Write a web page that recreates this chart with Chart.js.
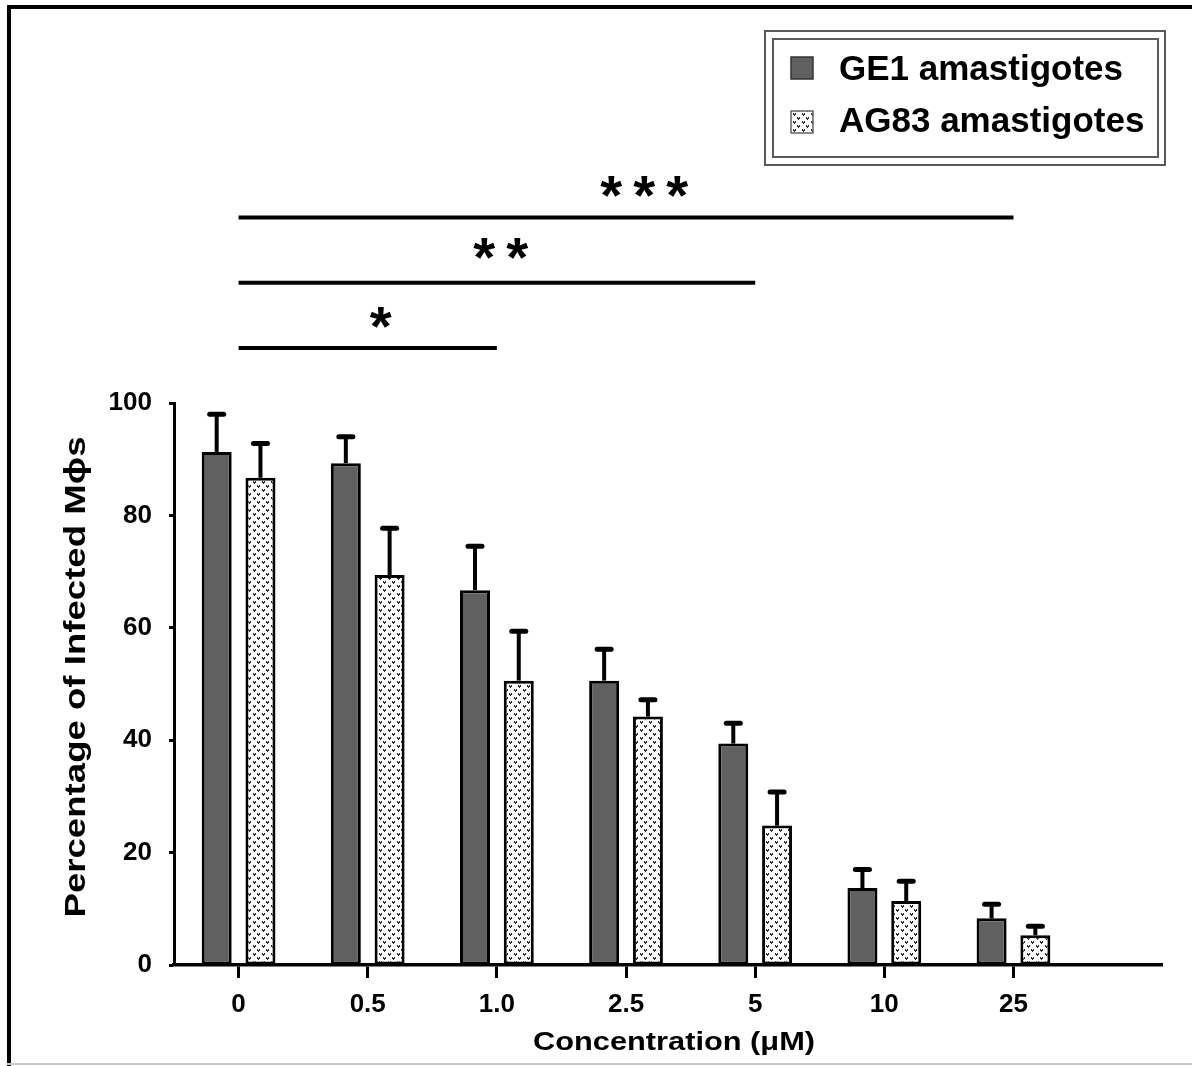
<!DOCTYPE html>
<html>
<head>
<meta charset="utf-8">
<title>Infected macrophages</title>
<script src="https://cdn.jsdelivr.net/npm/chart.js@4.4.1/dist/chart.umd.min.js"></script>
<style>
  html, body { margin: 0; padding: 0; background: #fff; overflow: hidden; }
  canvas { display: block; }
</style>
</head>
<body>
<canvas id="infectedChart" width="1192" height="1066"></canvas>
<script>
// data
const concentrations = ['0', '0.5', '1.0', '2.5', '5', '10', '25'];
const ge1Values  = [91.3, 89.3, 66.7, 50.6, 39.4, 13.7, 8.3];
const ge1Errors  = [6.7, 4.7, 7.8, 5.6, 3.6, 3.3, 2.5];
const ag83Values = [86.7, 69.4, 50.6, 44.2, 24.8, 11.4, 5.3];
const ag83Errors = [6.1, 8.3, 8.8, 3.0, 6.0, 3.5, 1.6];
const seriesNames = ['GE1 amastigotes', 'AG83 amastigotes'];

// significance brackets: from category, to category, label
const sigFrom   = [0, 0, 0];
const sigTo     = [2, 4, 6];
const sigLabels = ['*', '**', '***'];

const FONT = "'Liberation Sans', Arial, sans-serif";

const canvas = document.getElementById('infectedChart');
const ctx = canvas.getContext('2d');

// dotted fill for the AG83 bars
function makeDotPattern(color) {
  const tile = document.createElement('canvas');
  tile.width = 9; tile.height = 8;
  const g = tile.getContext('2d');
  g.fillStyle = '#fff';
  g.fillRect(0, 0, 9, 8);
  g.fillStyle = color;
  [[1, 1], [5, 5]].forEach(([x, y]) => {
    g.fillRect(x, y, 1, 1);
    g.fillRect(x + 2, y, 1, 1);
    g.fillRect(x, y + 1, 3, 1);
    g.fillRect(x + 1, y + 2, 1, 1);
  });
  return ctx.createPattern(tile, 'repeat');
}
const dotPattern = makeDotPattern('#2a2a2a');

function toPoints(values) {
  return values.map((v, i) => ({ x: i, y: v }));
}

function stretchedText(c, text, x, y, size, width, rotate) {
  c.save();
  c.font = 'bold ' + size + 'px ' + FONT;
  const w = c.measureText(text).width;
  c.translate(x, y);
  if (rotate) c.rotate(-Math.PI / 2);
  c.scale(width / w, 1);
  c.textAlign = 'center';
  c.textBaseline = 'alphabetic';
  c.fillStyle = '#000';
  c.fillText(text, 0, 0);
  c.restore();
}

const decorPlugin = {
  id: 'decor',
  beforeDraw(chart) {
    const c = chart.ctx;
    c.save();
    c.fillStyle = '#fff';
    c.fillRect(0, 0, chart.width, chart.height);
    // photo frame
    c.fillStyle = '#000';
    c.fillRect(7, 5, chart.width - 7, 4);
    c.fillRect(7, 5, 4, chart.height - 5);
    c.fillStyle = '#c8c8c8';
    c.fillRect(7, 1063, chart.width - 7, 2);
    c.restore();
  },
  afterDatasetsDraw(chart) {
    const c = chart.ctx;
    const y = chart.scales.y;
    const errs = [ge1Errors, ag83Errors];
    const vals = [ge1Values, ag83Values];
    c.save();
    c.strokeStyle = '#000';
    chart.data.datasets.forEach((ds, di) => {
      chart.getDatasetMeta(di).data.forEach((bar, j) => {
        const top = y.getPixelForValue(vals[di][j] + errs[di][j]);
        c.lineCap = 'butt';
        c.lineWidth = 4;
        c.beginPath();
        c.moveTo(bar.x, bar.y);
        c.lineTo(bar.x, top);
        c.stroke();
        c.lineCap = 'round';
        c.lineWidth = 5;
        c.beginPath();
        c.moveTo(bar.x - 7, top);
        c.lineTo(bar.x + 7, top);
        c.stroke();
      });
    });
    c.restore();
  },
  afterDraw(chart) {
    const c = chart.ctx;
    const xs = chart.scales.x;
    const ys = chart.scales.y;

    // axis titles
    stretchedText(c, 'Percentage of Infected M\u03d5s', 85, 677, 29, 481, true);
    stretchedText(c, 'Concentration (\u03bcM)', 674, 1050, 26, 282, false);

    // significance brackets
    const lineVals = [109.8, 121.4, 133.0];
    const starCenters = [1.10, 2.03, 3.14];
    const starVals = [115.2, 127.5, 138.5];
    c.save();
    c.fillStyle = '#000';
    c.strokeStyle = '#000';
    c.lineWidth = 4;
    c.lineCap = 'butt';
    c.font = 'bold 100px ' + FONT;
    const m = c.measureText('*');
    const inkW = m.actualBoundingBoxLeft + m.actualBoundingBoxRight;
    const size = 100 * 22 / inkW;
    c.font = 'bold ' + size + 'px ' + FONT;
    const mm = c.measureText('*');
    const asc = mm.actualBoundingBoxAscent, desc = mm.actualBoundingBoxDescent;
    sigLabels.forEach((lab, k) => {
      const py = ys.getPixelForValue(lineVals[k]);
      c.beginPath();
      c.moveTo(xs.getPixelForValue(sigFrom[k]), py);
      c.lineTo(xs.getPixelForValue(sigTo[k]), py);
      c.stroke();
      const cx = xs.getPixelForValue(starCenters[k]);
      const cy = ys.getPixelForValue(starVals[k]);
      const n = lab.length;
      c.textAlign = 'center';
      c.textBaseline = 'alphabetic';
      for (let s = 0; s < n; s++) {
        const sx = cx + (s - (n - 1) / 2) * 33;
        c.fillText('*', sx, cy + (asc - desc) / 2);
      }
    });
    c.restore();

    // legend box
    c.save();
    c.strokeStyle = '#5a5a5a';
    c.lineWidth = 2;
    c.strokeRect(765, 31, 400, 134);
    c.strokeRect(773, 39, 385, 118);
    c.fillStyle = '#606060';
    c.fillRect(791, 57, 22, 22);
    c.strokeStyle = '#333';
    c.lineWidth = 1.5;
    c.strokeRect(791, 57, 22, 22);
    c.fillStyle = dotPattern;
    c.fillRect(791, 111, 22, 22);
    c.strokeStyle = '#666';
    c.strokeRect(791, 111, 22, 22);
    c.fillStyle = '#000';
    c.font = 'bold 35px ' + FONT;
    c.textAlign = 'left';
    c.textBaseline = 'alphabetic';
    c.fillText(seriesNames[0], 839, 80);
    c.fillText(seriesNames[1], 839, 132);
    c.restore();
  }
};

const chart = new Chart(ctx, {
  type: 'bar',
  data: {
    datasets: [{
      label: seriesNames[0],
      data: toPoints(ge1Values),
      backgroundColor: '#606060',
      borderColor: '#000',
      borderWidth: 3,
      borderSkipped: false
    }, {
      label: seriesNames[1],
      data: toPoints(ag83Values),
      backgroundColor: dotPattern,
      borderColor: '#000',
      borderWidth: 3,
      borderSkipped: false
    }]
  },
  options: {
    responsive: false,
    animation: false,
    categoryPercentage: 0.678,
    barPercentage: 0.685,
    layout: { padding: { top: 403, right: 30, bottom: 0, left: 0 } },
    plugins: {
      legend: { display: false },
      tooltip: { enabled: false }
    },
    scales: {
      x: {
        type: 'linear',
        min: -0.5,
        max: 7.15,
        offset: false,
        afterBuildTicks(scale) {
          scale.ticks = concentrations.map((c, i) => ({ value: i }));
        },
        afterFit(scale) { scale.height = 101; },
        ticks: {
          callback: (v) => concentrations[v],
          color: '#000',
          font: { family: FONT, size: 26, weight: 'bold' },
          padding: 11,
          maxRotation: 0,
          autoSkip: false
        },
        grid: {
          offset: false,
          drawOnChartArea: false,
          tickLength: 13,
          tickWidth: 3,
          tickColor: '#000'
        },
        border: { display: true, color: '#000', width: 3.5 }
      },
      y: {
        min: 0,
        max: 100,
        afterFit(scale) { scale.width = 174; },
        ticks: {
          stepSize: 20,
          color: '#000',
          font: { family: FONT, size: 26, weight: 'bold' },
          padding: 17
        },
        grid: {
          drawOnChartArea: false,
          tickLength: 5,
          tickWidth: 3,
          tickColor: '#000'
        },
        border: { display: true, color: '#000', width: 3 }
      }
    }
  },
  plugins: [decorPlugin]
});
</script>
</body>
</html>
